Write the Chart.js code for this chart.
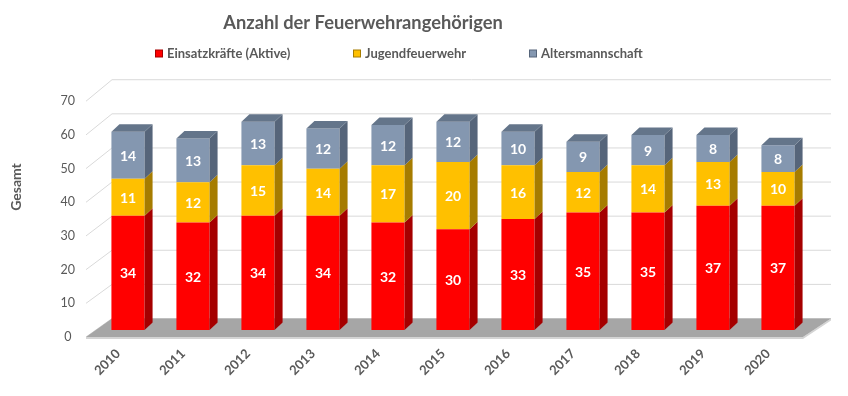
<!DOCTYPE html>
<html><head><meta charset="utf-8">
<script src="https://cdn.jsdelivr.net/npm/chart.js@4/dist/chart.umd.min.js"></script>
<style>html,body{margin:0;padding:0;background:#fff}#wrap{width:848px;height:396px}</style>
</head><body><div id="wrap"><canvas id="c" width="848" height="396"></canvas></div>
<script>
const categories = ['2010','2011','2012','2013','2014','2015','2016','2017','2018','2019','2020'];
const einsatzkraefte = [34,32,34,34,32,30,33,35,35,37,37];
const jugendfeuerwehr = [11,12,15,14,17,20,16,12,14,13,10];
const altersmannschaft = [14,13,13,12,12,12,10,9,9,8,8];
const seriesNames = ['Einsatzkräfte (Aktive)','Jugendfeuerwehr','Altersmannschaft'];
const chartTitle = 'Anzahl der Feuerwehrangehörigen';
const yAxisTitle = 'Gesamt';

const FONT = 'Lato, "Liberation Sans", sans-serif';
const TXT = '#595959';
const frontColors = ['#ff0000','#ffc000','#8497b0'];
const sideColors = ['#a50000','#a67c00','#56657a'];
const topColor = '#64758a';
const DX = 8, DY = 7.5;

const threeD = {
  id: 'threeD',
  beforeDatasetsDraw(chart) {
    const ctx = chart.ctx, ca = chart.chartArea, yF = chart.scales.yF;
    ctx.save();
    ctx.strokeStyle = '#d9d9d9';
    ctx.lineWidth = 1;
    for (let v = 0; v <= 70; v += 10) {
      const fy = yF.getPixelForValue(v);
      const by = fy - 18.5 - 3 * v / 70;
      ctx.beginPath();
      ctx.moveTo(ca.left - 9.5, fy);
      ctx.lineTo(ca.left + 16.5, by);
      ctx.lineTo(ca.right + 20.5, by);
      ctx.stroke();
    }
    const f0 = yF.getPixelForValue(0);
    ctx.fillStyle = '#d4d4d4';
    ctx.beginPath();
    ctx.moveTo(ca.left - 9.5, f0);
    ctx.lineTo(ca.right - 7.5, f0);
    ctx.lineTo(ca.right + 20.5, f0 - 18.5);
    ctx.lineTo(ca.right + 20.5, f0 - 16.5);
    ctx.lineTo(ca.right - 7.5, f0 + 2);
    ctx.lineTo(ca.left - 9.5, f0 + 2);
    ctx.closePath();
    ctx.fill();
    ctx.fillStyle = '#a6a6a6';
    ctx.beginPath();
    ctx.moveTo(ca.left - 9.5, f0);
    ctx.lineTo(ca.right - 7.5, f0);
    ctx.lineTo(ca.right + 20.5, f0 - 18.5);
    ctx.lineTo(ca.left + 16.5, f0 - 18.5);
    ctx.closePath();
    ctx.fill();
    ctx.restore();
  },
  afterDatasetsDraw(chart) {
    const ctx = chart.ctx;
    ctx.save();
    const n = chart.data.datasets.length;
    chart.data.datasets.forEach((ds, di) => {
      const meta = chart.getDatasetMeta(di);
      meta.data.forEach((bar) => {
        const w = bar.width, l = bar.x - w / 2, r = bar.x + w / 2;
        const top = Math.min(bar.y, bar.base), bot = Math.max(bar.y, bar.base);
        ctx.fillStyle = sideColors[di];
        ctx.beginPath();
        ctx.moveTo(r, top); ctx.lineTo(r + DX, top - DY);
        ctx.lineTo(r + DX, bot - DY); ctx.lineTo(r, bot);
        ctx.closePath(); ctx.fill();
        if (di === n - 1) {
          ctx.fillStyle = topColor;
          ctx.beginPath();
          ctx.moveTo(l, top); ctx.lineTo(l + DX, top - DY);
          ctx.lineTo(r + DX, top - DY); ctx.lineTo(r, top);
          ctx.closePath(); ctx.fill();
        }
      });
    });
    ctx.fillStyle = '#ffffff';
    ctx.font = 'bold 14px ' + FONT;
    ctx.textAlign = 'center';
    ctx.textBaseline = 'middle';
    chart.data.datasets.forEach((ds, di) => {
      const meta = chart.getDatasetMeta(di);
      meta.data.forEach((bar, i) => {
        ctx.fillText(String(ds.data[i]), bar.x, (bar.y + bar.base) / 2 + 1);
      });
    });
    ctx.restore();
  },
  afterDraw(chart) {
    const ctx = chart.ctx;
    ctx.save();
    ctx.fillStyle = TXT;
    ctx.font = 'bold 18.3px ' + FONT;
    ctx.textAlign = 'center';
    ctx.textBaseline = 'alphabetic';
    ctx.fillText(chartTitle, 363, 29);
    const starts = [155, 353, 529];
    ctx.font = 'bold 13px ' + FONT;
    ctx.textAlign = 'left';
    seriesNames.forEach((name, i) => {
      ctx.fillStyle = sideColors[i];
      ctx.fillRect(starts[i], 49.5, 8, 8);
      ctx.fillStyle = frontColors[i];
      ctx.fillRect(starts[i] + 1, 50.5, 6, 6);
      ctx.fillStyle = TXT;
      ctx.fillText(name, starts[i] + 12, 58);
    });
    ctx.translate(16, 187);
    ctx.rotate(-Math.PI / 2);
    ctx.font = 'bold 14px ' + FONT;
    ctx.textAlign = 'center';
    ctx.textBaseline = 'middle';
    ctx.fillText(yAxisTitle, 0, 0);
    ctx.restore();
  }
};

new Chart(document.getElementById('c'), {
  type: 'bar',
  data: {
    labels: categories,
    datasets: [
      { label: seriesNames[0], data: einsatzkraefte, backgroundColor: frontColors[0] },
      { label: seriesNames[1], data: jugendfeuerwehr, backgroundColor: frontColors[1] },
      { label: seriesNames[2], data: altersmannschaft, backgroundColor: frontColors[2] }
    ]
  },
  options: {
    responsive: false,
    devicePixelRatio: 1,
    animation: false,
    layout: { padding: { top: 80, right: 37.5, left: 0, bottom: 0 } },
    plugins: { legend: { display: false }, title: { display: false }, tooltip: { enabled: false } },
    datasets: { bar: { barPercentage: 0.51, categoryPercentage: 1, borderWidth: 0 } },
    scales: {
      x: {
        type: 'category', stacked: true, offset: true,
        grid: { display: false, drawTicks: false }, border: { display: false },
        ticks: { minRotation: 45, maxRotation: 45, padding: 9, labelOffset: -10, color: TXT, font: { family: FONT, size: 13, weight: 'bold' } },
        afterFit(s) { s.height = 59; }
      },
      y: { stacked: true, min: -2.08, max: 74.4, display: false },
      yF: {
        position: 'left', min: 0, max: 76.3,
        grid: { display: false, drawTicks: false }, border: { display: false },
        ticks: { stepSize: 10, includeBounds: false, crossAlign: 'center', padding: 20.5, color: TXT, font: { family: FONT, size: 12.5 } },
        afterFit(s) { s.width = 95.5; }
      }
    }
  },
  plugins: [threeD]
});
</script></body></html>
